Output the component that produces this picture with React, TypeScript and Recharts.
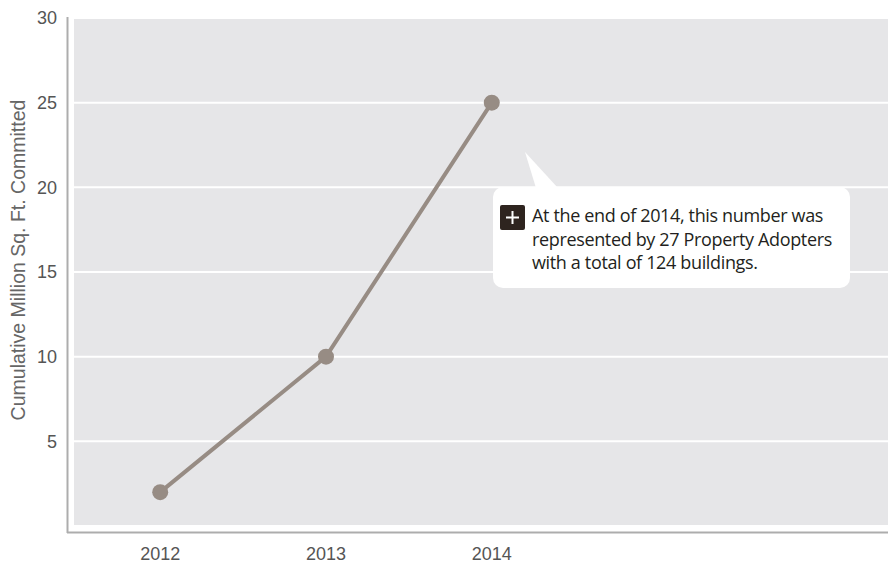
import React from 'react';
import {
  CartesianGrid,
  Customized,
  Line,
  LineChart,
  XAxis,
  YAxis,
} from 'recharts';

const years = [2012, 2013, 2014];
const committed = [2, 10, 25];
const yTicks = [5, 10, 15, 20, 25, 30];
const noteLines = [
  'At the end of 2014, this number was',
  'represented by 27 Property Adopters',
  'with a total of 124 buildings.',
];
const axisTitle = 'Cumulative Million Sq. Ft. Committed';

const chartData = years.map((year, i) => ({ year, value: committed[i] }));

const LINE_COLOR = '#978c84';
const FONT = '"Liberation Sans", Arial, sans-serif';

// plot box: left 74, top 18, bottom 526
const AxisLines = () => (
  <g>
    <line x1={67.5} y1={17} x2={67.5} y2={533} stroke="#adadad" strokeWidth={2} />
    <line x1={67} y1={532.5} x2={888} y2={532.5} stroke="#adadad" strokeWidth={2} />
  </g>
);

const Note = () => (
  <g>
    <rect x={493} y={187} width={357} height={101} rx={10} fill="#fff" />
    <polygon points="525,152 536,188 558,188" fill="#fff" />
    <rect x={500} y={205} width={25} height={25} rx={2} fill="#2e241f" />
    <line x1={506} y1={217.5} x2={519} y2={217.5} stroke="#fff" strokeWidth={2} />
    <line x1={512.5} y1={211} x2={512.5} y2={224} stroke="#fff" strokeWidth={2} />
    {noteLines.map((t, i) => (
      <text
        key={i}
        x={532}
        y={222 + i * 23.5}
        fontFamily='"Open Sans", "Noto Sans", sans-serif'
        fontSize={18}
        letterSpacing={-0.35}
        fill="#231f20"
      >
        {t}
      </text>
    ))}
  </g>
);

const YTitle = () => (
  <text
    x={18}
    y={260}
    transform="rotate(-90 18 260)"
    textAnchor="middle"
    dominantBaseline="central"
    fontFamily={FONT}
    fontSize={19.5}
    fill="#666"
  >
    {axisTitle}
  </text>
);

const App = () => {
  return (
    <div style={{ position: 'absolute', left: 0, top: 0, background: '#fff' }}>
      <LineChart
        width={888}
        height={569}
        data={chartData}
        margin={{ top: 18, right: 0, bottom: 0, left: 0 }}
        style={{ fontFamily: FONT }}
      >
        <CartesianGrid
          vertical={false}
          stroke="#fff"
          strokeWidth={2}
          fill="#e6e6e8"
          fillOpacity={1}
        />
        <XAxis
          dataKey="year"
          type="number"
          domain={[2011.48, 2016.39]}
          ticks={years}
          allowDataOverflow
          height={43}
          axisLine={false}
          tickLine={false}
          tickSize={6}
          tickMargin={15}
          tick={{ fill: '#555', fontSize: 18 }}
        />
        <YAxis
          domain={[0, 30]}
          ticks={yTicks}
          width={74}
          axisLine={false}
          tickLine={false}
          tickSize={6}
          tickMargin={11}
          tick={{ fill: '#555', fontSize: 18 }}
          label={{ content: () => <YTitle /> }}
        />
        <Line
          type="linear"
          dataKey="value"
          stroke={LINE_COLOR}
          strokeWidth={4}
          dot={{ r: 8, fill: LINE_COLOR, stroke: LINE_COLOR, strokeWidth: 0 }}
          activeDot={false}
          isAnimationActive={false}
        />
        <Customized component={AxisLines} />
        <Customized component={Note} />
      </LineChart>
    </div>
  );
};

export default App;
